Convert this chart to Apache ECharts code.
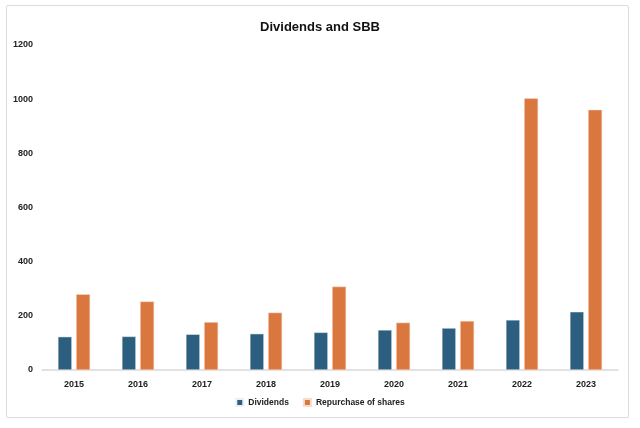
<!DOCTYPE html>
<html>
<head>
<meta charset="utf-8">
<script src="https://cdn.jsdelivr.net/npm/echarts@6.0.0/dist/echarts.min.js"></script>
<style>
  html, body { margin: 0; padding: 0; background: #fff; }
  #frame { position: absolute; left: 6px; top: 5px; width: 623px; height: 413px;
           border: 1.5px solid #dcdcdc; border-radius: 2px; box-sizing: border-box; }
  #app { width: 640px; height: 428px; }
</style>
</head>
<body>
<div id="frame"></div>
<div id="app"></div>
<script>
var years = ['2015', '2016', '2017', '2018', '2019', '2020', '2021', '2022', '2023'];
var dividends = [123, 124, 132, 134, 139, 148, 155, 185, 215];
var repurchase = [280, 253, 177, 212, 308, 175, 181, 1003, 961];
var yTicks = [0, 200, 400, 600, 800, 1000, 1200];

var font = 'Liberation Sans';
var chart = echarts.init(document.getElementById('app'));
chart.setOption({
    animation: false,
    title: {
        text: 'Dividends and SBB',
        left: 'center',
        top: 16,
        textStyle: { fontFamily: font, fontSize: 13, fontWeight: 'bold', color: '#111' }
    },
    legend: {
        data: ['Dividends', 'Repurchase of shares'],
        bottom: 16,
        left: 'center',
        icon: 'rect',
        itemWidth: 7,
        itemHeight: 7,
        itemGap: 14,
        textStyle: { fontFamily: font, fontSize: 8.5, fontWeight: 'bold', color: '#222' }
    },
    grid: { left: 42, right: 22, top: 45, bottom: 58, containLabel: false },
    xAxis: {
        type: 'category',
        data: years,
        axisLine: { lineStyle: { color: '#d9d9d9', width: 1.5 } },
        axisTick: { show: false },
        axisLabel: { fontFamily: font, fontSize: 9, fontWeight: 'bold', color: '#222', margin: 10 }
    },
    yAxis: {
        type: 'value',
        min: yTicks[0],
        max: yTicks[yTicks.length - 1],
        interval: 200,
        splitLine: { show: false },
        axisLine: { show: false },
        axisTick: { show: false },
        axisLabel: {
            fontFamily: font, fontSize: 9, fontWeight: 'bold', color: '#222', margin: 9,
            formatter: function (v) { return String(v); }
        }
    },
    series: [
        {
            name: 'Dividends',
            type: 'bar',
            data: dividends,
            barWidth: 14,
            barGap: '30%',
            itemStyle: { color: '#2c5f7f', borderColor: '#eaf0f4', borderWidth: 0.5 }
        },
        {
            name: 'Repurchase of shares',
            type: 'bar',
            data: repurchase,
            barWidth: 14,
            itemStyle: { color: '#d9773f', borderColor: '#f6dccd', borderWidth: 0.5 }
        }
    ]
});
</script>
</body>
</html>
